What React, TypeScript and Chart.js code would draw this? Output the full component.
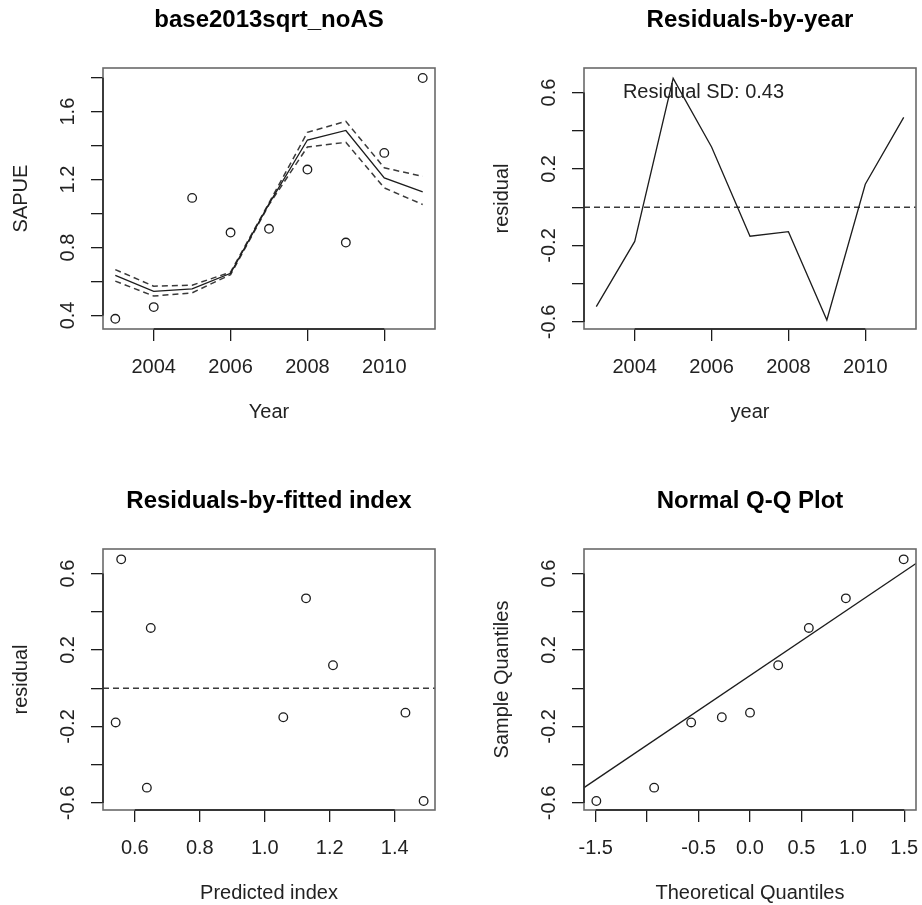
import React, { useEffect, useRef } from 'react';
import { Chart, registerables } from 'chart.js';

Chart.register(...registerables);

// ---------------- data ----------------
const years = [2003, 2004, 2005, 2006, 2007, 2008, 2009, 2010, 2011];
const observedSAPUE = [0.38, 0.449, 1.092, 0.888, 0.91, 1.259, 0.829, 1.357, 1.798];
const fittedSAPUE = [0.636, 0.542, 0.556, 0.648, 1.057, 1.433, 1.489, 1.21, 1.127];
const upperSAPUE = [0.67, 0.572, 0.578, 0.655, 1.062, 1.478, 1.543, 1.269, 1.219];
const lowerSAPUE = [0.602, 0.514, 0.533, 0.64, 1.052, 1.392, 1.419, 1.151, 1.053];
const residuals = [-0.52, -0.179, 0.674, 0.315, -0.152, -0.128, -0.59, 0.12, 0.47];
const predictedIndex = [0.637, 0.541, 0.558, 0.649, 1.057, 1.433, 1.489, 1.21, 1.127];
const theoreticalQuantiles = [-1.494, -0.932, -0.572, -0.274, 0, 0.274, 0.572, 0.932, 1.494];
const sampleQuantiles = [-0.59, -0.52, -0.179, -0.152, -0.128, 0.12, 0.315, 0.47, 0.674];
const qqLineX = [-1.614, 1.614];
const qqLineY = [-0.52, 0.652];
const residualSDText = 'Residual SD: 0.43';
const residualSDAt = { x: 2005.79, y: 0.6 };

// axis ranges and ticks
const yearRange = [2002.68, 2011.32];
const sapueRange = [0.32, 1.857];
const residRange = [-0.637, 0.728];
const predRange = [0.502, 1.524];
const theoRange = [-1.614, 1.614];

const yearTicks = [2004, 2006, 2008, 2010];
const yearLabels = ['2004', '2006', '2008', '2010'];
const sapueTicks = [0.4, 0.6, 0.8, 1.0, 1.2, 1.4, 1.6, 1.8];
const sapueLabels = ['0.4', '', '0.8', '', '1.2', '', '1.6', ''];
const residTicks = [-0.6, -0.4, -0.2, 0, 0.2, 0.4, 0.6];
const residLabels = ['-0.6', '', '-0.2', '', '0.2', '', '0.6'];
const predTicks = [0.6, 0.8, 1.0, 1.2, 1.4];
const predLabels = ['0.6', '0.8', '1.0', '1.2', '1.4'];
const theoTicks = [-1.5, -1.0, -0.5, 0, 0.5, 1.0, 1.5];
const theoLabels = ['-1.5', '', '-0.5', '0.0', '0.5', '1.0', '1.5'];

// ---------------- styling ----------------
const FONT = "'Liberation Sans', Arial, Helvetica, sans-serif";
const INK = '#1c1c1c';
const TEXT = '#222222';
const DASH = [6, 4];

const pts = (xs: number[], ys: number[]) => xs.map((x, i) => ({ x, y: ys[i] }));

const rFrame = {
  id: 'rFrame',
  afterDraw(chart: any, _args: any, opts: any) {
    const { ctx, chartArea } = chart;
    const { left, right, top, bottom } = chartArea;
    const xs = chart.scales.x;
    const ys = chart.scales.y;
    ctx.save();
    ctx.strokeStyle = '#6a6a6a';
    ctx.lineWidth = 1.6;
    ctx.strokeRect(left, top, right - left, bottom - top);
    ctx.strokeStyle = INK;
    ctx.lineWidth = 1.4;
    ctx.beginPath();
    const xt = xs.ticks;
    const yt = ys.ticks;
    ctx.moveTo(xs.getPixelForValue(xt[0].value), bottom);
    ctx.lineTo(xs.getPixelForValue(xt[xt.length - 1].value), bottom);
    ctx.moveTo(left, ys.getPixelForValue(yt[0].value));
    ctx.lineTo(left, ys.getPixelForValue(yt[yt.length - 1].value));
    ctx.stroke();
    if (opts && opts.text) {
      ctx.fillStyle = TEXT;
      ctx.font = `20px ${FONT}`;
      ctx.textAlign = 'center';
      ctx.textBaseline = 'middle';
      ctx.fillText(opts.text, xs.getPixelForValue(opts.x), ys.getPixelForValue(opts.y));
    }
    ctx.restore();
  },
};

const gridOpts = {
  display: true,
  drawOnChartArea: false,
  drawTicks: true,
  tickLength: 12,
  color: INK,
  tickColor: INK,
  lineWidth: 1.3,
  tickWidth: 1.3,
};

function axisX(range: number[], ticks: number[], labels: string[], title: string) {
  return {
    type: 'linear',
    position: 'bottom',
    min: range[0],
    max: range[1],
    afterBuildTicks: (s: any) => {
      s.ticks = ticks.map((v) => ({ value: v }));
    },
    afterFit: (s: any) => {
      s.height = 95;
      s.paddingLeft = 0;
      s.paddingRight = 0;
    },
    grid: gridOpts,
    border: { display: false },
    ticks: {
      autoSkip: false,
      padding: 14,
      minRotation: 0,
      maxRotation: 0,
      color: TEXT,
      font: { family: FONT, size: 20, lineHeight: 1.2 },
      callback: (_v: any, i: number) => labels[i],
    },
    title: {
      display: true,
      text: title,
      color: TEXT,
      font: { family: FONT, size: 20, lineHeight: 1.2 },
      padding: { top: 0, bottom: 0 },
    },
  };
}

function axisY(range: number[], ticks: number[], labels: string[], title: string, pad: number) {
  return {
    type: 'linear',
    position: 'left',
    min: range[0],
    max: range[1],
    afterBuildTicks: (s: any) => {
      s.ticks = ticks.map((v) => ({ value: v }));
    },
    afterFit: (s: any) => {
      s.width = 103;
      s.paddingTop = 0;
      s.paddingBottom = 0;
    },
    grid: gridOpts,
    border: { display: false },
    ticks: {
      autoSkip: false,
      padding: pad,
      minRotation: 90,
      maxRotation: 90,
      crossAlign: 'center',
      color: TEXT,
      font: { family: FONT, size: 20, lineHeight: 1.2 },
      callback: (_v: any, i: number) => labels[i],
    },
    title: {
      display: true,
      text: title,
      color: TEXT,
      font: { family: FONT, size: 20, lineHeight: 1.2 },
      padding: { top: 9, bottom: 0 },
    },
  };
}

const pointDs = (data: any[]) => ({
  data,
  showLine: false,
  pointRadius: 4.3,
  pointBorderWidth: 1.3,
  pointBackgroundColor: 'rgba(0,0,0,0)',
  pointBorderColor: INK,
  borderColor: INK,
});

const lineDs = (data: any[], dash: number[] = []) => ({
  data,
  showLine: true,
  pointRadius: 0,
  borderColor: dash.length ? '#3a3a3a' : INK,
  borderWidth: dash.length ? 1.5 : 1.3,
  borderDash: dash,
  fill: false,
  tension: 0,
});

function makeConfig(
  title: string,
  datasets: any[],
  x: any,
  y: any,
  padRight: number,
  padBottom: number,
  frameOpts: any = {}
) {
  return {
    type: 'scatter',
    data: { datasets },
    options: {
      responsive: false,
      animation: false,
      devicePixelRatio: 1,
      events: [],
      layout: { padding: { left: 0, top: 0, right: padRight, bottom: padBottom } },
      plugins: {
        legend: { display: false },
        tooltip: { enabled: false },
        title: {
          display: true,
          text: title,
          fullSize: false,
          color: '#000',
          font: { family: FONT, size: 24, weight: 'bold', lineHeight: 1.2 },
          padding: { top: 6.1, bottom: 33.1 },
        },
        rFrame: frameOpts,
      },
      scales: { x, y },
    },
    plugins: [rFrame],
  };
}

type Spec = { left: number; top: number; width: number; height: number; make: () => any };

const specs: Spec[] = [
  {
    left: 0,
    top: 0,
    width: 481,
    height: 481,
    make: () =>
      makeConfig(
        'base2013sqrt_noAS',
        [
          pointDs(pts(years, observedSAPUE)),
          lineDs(pts(years, fittedSAPUE)),
          lineDs(pts(years, upperSAPUE), DASH),
          lineDs(pts(years, lowerSAPUE), DASH),
        ],
        axisX(yearRange, yearTicks, yearLabels, 'Year'),
        axisY(sapueRange, sapueTicks, sapueLabels, 'SAPUE', 8.6),
        46,
        57
      ),
  },
  {
    left: 481,
    top: 0,
    width: 441,
    height: 481,
    make: () =>
      makeConfig(
        'Residuals-by-year',
        [lineDs(pts(years, residuals)), lineDs(pts(yearRange, [0, 0]), DASH)],
        axisX(yearRange, yearTicks, yearLabels, 'year'),
        axisY(residRange, residTicks, residLabels, 'residual', 5.3),
        6,
        57,
        { text: residualSDText, x: residualSDAt.x, y: residualSDAt.y }
      ),
  },
  {
    left: 0,
    top: 481,
    width: 481,
    height: 424,
    make: () =>
      makeConfig(
        'Residuals-by-fitted index',
        [pointDs(pts(predictedIndex, residuals)), lineDs(pts(predRange, [0, 0]), DASH)],
        axisX(predRange, predTicks, predLabels, 'Predicted index'),
        axisY(residRange, residTicks, residLabels, 'residual', 5.3),
        46,
        0
      ),
  },
  {
    left: 481,
    top: 481,
    width: 441,
    height: 424,
    make: () =>
      makeConfig(
        'Normal Q-Q Plot',
        [pointDs(pts(theoreticalQuantiles, sampleQuantiles)), lineDs(pts(qqLineX, qqLineY))],
        axisX(theoRange, theoTicks, theoLabels, 'Theoretical Quantiles'),
        axisY(residRange, residTicks, residLabels, 'Sample Quantiles', 5.3),
        6,
        0
      ),
  },
];

function Panel({ spec }: { spec: Spec }) {
  const ref = useRef<HTMLCanvasElement | null>(null);
  useEffect(() => {
    if (!ref.current) return;
    const chart = new Chart(ref.current, spec.make());
    return () => chart.destroy();
  }, [spec]);
  return (
    <canvas
      ref={ref}
      width={spec.width}
      height={spec.height}
      style={{
        position: 'absolute',
        left: spec.left,
        top: spec.top,
        width: spec.width,
        height: spec.height,
      }}
    />
  );
}

export default function App() {
  return (
    <div
      style={{
        position: 'absolute',
        left: 0,
        top: 0,
        width: 922,
        height: 905,
        background: '#ffffff',
        overflow: 'hidden',
      }}
    >
      {specs.map((s, i) => (
        <Panel key={i} spec={s} />
      ))}
    </div>
  );
}
